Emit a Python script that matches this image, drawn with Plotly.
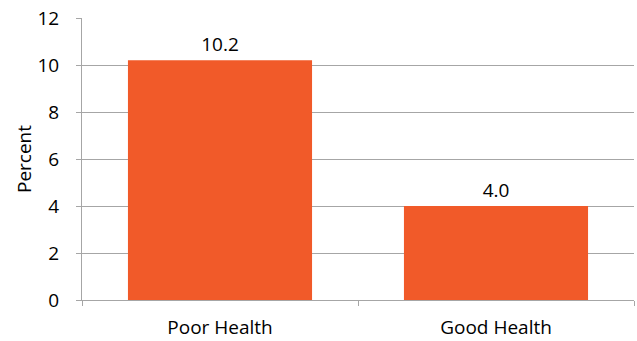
import plotly.graph_objects as go

categories = ["Poor Health", "Good Health"]
percent = [10.2, 4.0]
bar_color = "#F15A29"
grid_color = "#A6A6A6"
font_family = "Open Sans, Liberation Sans, sans-serif"
font_size = 19

fig = go.Figure(
    go.Bar(
        x=categories,
        y=percent,
        marker=dict(color=bar_color, line=dict(width=0)),
        width=0.667,
        text=[f"{v:.1f}" for v in percent],
        textposition="outside",
        textfont=dict(size=font_size, color="#000000", family=font_family),
        cliponaxis=False,
    )
)

fig.update_layout(
    width=637,
    height=341,
    margin=dict(l=82, r=3, t=18, b=41),
    paper_bgcolor="white",
    plot_bgcolor="white",
    showlegend=False,
    font=dict(family=font_family, size=font_size, color="#000000"),
    bargap=0.333,
    uniformtext=dict(minsize=font_size, mode="show"),
)

fig.update_yaxes(
    range=[0, 12],
    tickvals=[0, 2, 4, 6, 8, 10, 12],
    showgrid=True,
    gridcolor=grid_color,
    gridwidth=1,
    showline=True,
    linecolor=grid_color,
    linewidth=1,
    ticks="outside",
    ticklen=5,
    tickcolor=grid_color,
    ticklabelstandoff=13,
    zeroline=False,
    automargin=False,
    title=dict(text="Percent", standoff=0, font=dict(size=font_size)),
    tickfont=dict(size=font_size),
)

fig.update_xaxes(
    showline=True,
    linecolor=grid_color,
    linewidth=1,
    ticks="outside",
    tickson="boundaries",
    ticklen=5,
    tickcolor=grid_color,
    ticklabelstandoff=10,
    automargin=False,
    tickfont=dict(size=font_size),
    showgrid=False,
)

fig.write_html("out.html")
